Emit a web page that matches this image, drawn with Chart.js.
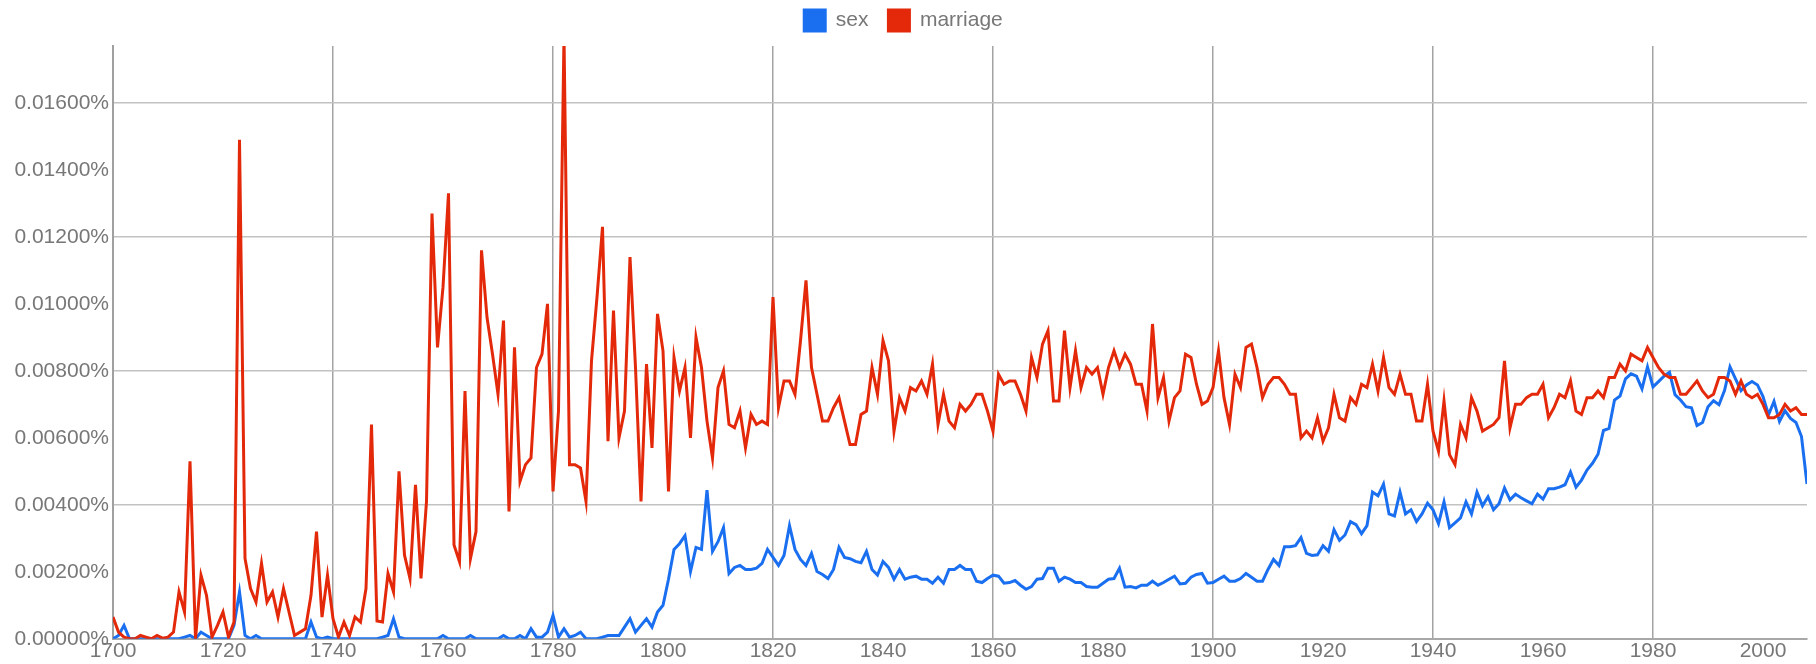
<!DOCTYPE html>
<html>
<head>
<meta charset="utf-8">
<script src="https://cdn.jsdelivr.net/npm/chart.js@4.4.1/dist/chart.umd.min.js"></script>
<style>
html,body{margin:0;padding:0;background:#ffffff;}
#wrap{width:1816px;height:664px;position:relative;}
</style>
</head>
<body>
<div id="wrap"><canvas id="c" width="1816" height="664"></canvas></div>
<script>
const startYear = 1700;
const endYear = 2008;
const seriesNames = ['sex', 'marriage'];
const seriesColors = ['#1a6ff0', '#e3290a'];

// frequency in percent, one value per year 1700..2008
const sex = [
  0, 0.0001, 0.0004, 0, 0, 0, 0, 0, 0, 0,
  0, 0, 0, 0.00005, 0.0001, 0, 0.0002, 0.0001, 0, 0,
  0, 0, 0.0004, 0.0014, 0.0001, 0, 0.0001, 0, 0, 0,
  0, 0, 0, 0, 0, 0, 0.0005, 0.00005, 0, 0.00005,
  0, 0, 0, 0, 0, 0, 0, 0, 0, 0.00005,
  0.0001, 0.0006, 0.00005, 0, 0, 0, 0, 0, 0, 0,
  0.0001, 0, 0, 0, 0, 0.0001, 0, 0, 0, 0,
  0, 0.0001, 0, 0, 0.0001, 0, 0.0003, 0.00005, 0.00005, 0.0002,
  0.0007, 0.00005, 0.0003, 0.00005, 0.0001, 0.0002, 0, 0, 0, 0.00005,
  0.0001, 0.0001, 0.0001, 0.00035, 0.0006, 0.0002, 0.0004, 0.0006, 0.00035, 0.0008,
  0.0010, 0.00178, 0.00267, 0.00284, 0.00308, 0.00201, 0.00273, 0.00267, 0.00444, 0.00261,
  0.00290, 0.00332, 0.00195, 0.00213, 0.00219, 0.00207, 0.00207, 0.00211, 0.00225, 0.00267,
  0.00243, 0.00219, 0.00249, 0.00338, 0.00267, 0.00237, 0.00219, 0.00255, 0.00201, 0.00192,
  0.00180, 0.00207, 0.00273, 0.00243, 0.00239, 0.00231, 0.00227, 0.00261, 0.00207, 0.00190,
  0.00231, 0.00213, 0.00178, 0.00207, 0.00178, 0.00184, 0.00187, 0.00178, 0.00178, 0.00166,
  0.00184, 0.00166, 0.00207, 0.00207, 0.00219, 0.00207, 0.00207, 0.00172, 0.00168, 0.00180,
  0.00190, 0.00187, 0.00166, 0.00168, 0.00174, 0.00160, 0.00148, 0.00156, 0.00178, 0.00180,
  0.00211, 0.00211, 0.00172, 0.00184, 0.00178, 0.00168, 0.00168, 0.00156, 0.00154, 0.00154,
  0.00166, 0.00178, 0.00180, 0.00211, 0.00154, 0.00156, 0.00152, 0.00160, 0.00160, 0.00172,
  0.00160, 0.00168, 0.00178, 0.00187, 0.00164, 0.00166, 0.00184, 0.00192, 0.00195, 0.00166,
  0.00168, 0.00178, 0.00187, 0.00172, 0.00172, 0.00180, 0.00195, 0.00184, 0.00172, 0.00172,
  0.00207, 0.00237, 0.00219, 0.00275, 0.00275, 0.00278, 0.00302, 0.00255, 0.00249, 0.00251,
  0.00278, 0.00261, 0.00326, 0.00294, 0.00310, 0.00350, 0.00341, 0.00314, 0.00338, 0.00438,
  0.00427, 0.00462, 0.00373, 0.00367, 0.00438, 0.00373, 0.00385, 0.00350, 0.00373, 0.00405,
  0.00385, 0.00344, 0.00409, 0.00332, 0.00346, 0.00361, 0.00409, 0.00373, 0.00438, 0.00397,
  0.00424, 0.00385, 0.00403, 0.00450, 0.00415, 0.00432, 0.00421, 0.00412, 0.00403, 0.00432,
  0.00417, 0.00448, 0.00448, 0.00453, 0.00460, 0.00498, 0.00453, 0.00474, 0.00504, 0.00524,
  0.00551, 0.00622, 0.00628, 0.00713, 0.00725, 0.00776, 0.00791, 0.00784, 0.00746, 0.00812,
  0.00752, 0.00768, 0.00784, 0.00796, 0.00729, 0.00713, 0.00693, 0.00690, 0.00637, 0.00646,
  0.00693, 0.00711, 0.00699, 0.00741, 0.00812, 0.00776, 0.00741, 0.00758, 0.00768, 0.00758,
  0.00723, 0.00669, 0.00709, 0.00649, 0.00681, 0.00658, 0.00646, 0.00604, 0.00462
];

const marriage = [
  0.00065, 0.0002, 0.00005, 0, 0, 0.0001, 0.00005, 0, 0.0001, 0.00002,
  0.00005, 0.0002, 0.0014, 0.0008, 0.0053, 0, 0.0019, 0.0013, 0.00005, 0.0004,
  0.0008, 0.00005, 0.0005, 0.0149, 0.0024, 0.0015, 0.0011, 0.00225, 0.0011, 0.0014,
  0.00065, 0.0015, 0.0008, 0.0001, 0.0002, 0.0003, 0.0013, 0.0032, 0.00065, 0.0019,
  0.0006, 0.00005, 0.0005, 0.0001, 0.00065, 0.0005, 0.0015, 0.0064, 0.00053, 0.0005,
  0.00195, 0.0014, 0.0050, 0.0025, 0.0018, 0.0046, 0.0018, 0.0041, 0.0127, 0.0087,
  0.0105, 0.0133, 0.0028, 0.0023, 0.0074, 0.0024, 0.0032, 0.0116, 0.0096, 0.0085,
  0.0073, 0.0095, 0.0038, 0.0087, 0.0047, 0.0052, 0.0054, 0.0081, 0.0085, 0.0100,
  0.0044, 0.0068, 0.0180, 0.0052, 0.0052, 0.0051, 0.0041, 0.0083, 0.0102, 0.0123,
  0.0059, 0.0098, 0.0060, 0.0068, 0.0114, 0.0081, 0.0041, 0.0082, 0.0057, 0.0097,
  0.0086, 0.0044, 0.0084, 0.0074, 0.0081, 0.0060, 0.0090, 0.0081, 0.0065, 0.0054,
  0.0075, 0.0080, 0.0064, 0.0063, 0.0068, 0.0057, 0.0067, 0.0064, 0.0065, 0.0064,
  0.0102, 0.0069, 0.0077, 0.0077, 0.0073, 0.0089, 0.0107, 0.0081, 0.0073, 0.0065,
  0.0065, 0.0069, 0.0072, 0.0065, 0.0058, 0.0058, 0.0067, 0.0068, 0.0081, 0.0073,
  0.0089, 0.0083, 0.0062, 0.0072, 0.0068, 0.0075, 0.0074, 0.0077, 0.0073, 0.0082,
  0.0064, 0.0073, 0.0065, 0.0063, 0.0070, 0.0068, 0.0070, 0.0073, 0.0073, 0.0068,
  0.0062, 0.0079, 0.0076, 0.0077, 0.0077, 0.0073, 0.0068, 0.0084, 0.0078, 0.0088,
  0.0092, 0.0071, 0.0071, 0.0092, 0.0075, 0.0086, 0.0075, 0.0081, 0.0079, 0.0081,
  0.0073, 0.0081, 0.0086, 0.0081, 0.0085, 0.0082, 0.0076, 0.0076, 0.0068, 0.0094,
  0.0072, 0.0078, 0.0065, 0.0072, 0.0074, 0.0085, 0.0084, 0.0076, 0.0070, 0.0071,
  0.0075, 0.0086, 0.0072, 0.0064, 0.0079, 0.0075, 0.0087, 0.0088, 0.0081, 0.0072,
  0.0076, 0.0078, 0.0078, 0.0076, 0.0073, 0.0073, 0.0060, 0.0062, 0.0060, 0.0066,
  0.0059, 0.0063, 0.0073, 0.0066, 0.0065, 0.0072, 0.0070, 0.0076, 0.0075, 0.0082,
  0.0074, 0.0084, 0.0075, 0.0073, 0.0079, 0.0073, 0.0073, 0.0065, 0.0065, 0.0076,
  0.0062, 0.0056, 0.0071, 0.0055, 0.0052, 0.0064, 0.0060, 0.0072, 0.0068, 0.0062,
  0.0063, 0.0064, 0.0066, 0.0083, 0.0063, 0.0070, 0.0070, 0.0072, 0.0073, 0.0073,
  0.0076, 0.0066, 0.0069, 0.0073, 0.0072, 0.0077, 0.0068, 0.0067, 0.0072, 0.0072,
  0.0074, 0.0072, 0.0078, 0.0078, 0.0082, 0.0080, 0.0085, 0.0084, 0.0083, 0.0087,
  0.0084, 0.0081, 0.0079, 0.0078, 0.0078, 0.0073, 0.0073, 0.0075, 0.0077, 0.0074,
  0.0072, 0.0073, 0.0078, 0.0078, 0.0077, 0.0073, 0.0077, 0.0073, 0.0072, 0.0073,
  0.0070, 0.0066, 0.0066, 0.0067, 0.0070, 0.0068, 0.0069, 0.0067, 0.0067
];

const xTickStep = 20;      // year labels
const xGridStep = 40;      // vertical grid lines, counted from startYear
const yMax = 0.0177;
const yTickStep = 0.002;   // percent labels
const yGridEvery = 2;      // horizontal grid every other label

const years = [];
for (let y = startYear; y <= endYear; y++) years.push(y);

const FONT = "'Liberation Sans', Arial, Helvetica, sans-serif";

const legendSpacer = {
  id: 'legendSpacer',
  beforeInit(chart) {
    const origFit = chart.legend.fit;
    chart.legend.fit = function () {
      origFit.bind(chart.legend)();
      this.height += 5;
    };
  }
};

new Chart(document.getElementById('c'), {
  type: 'line',
  data: {
    labels: years,
    datasets: [
      { label: seriesNames[0], data: sex, borderColor: seriesColors[0], backgroundColor: seriesColors[0],
        borderWidth: 3, pointRadius: 0, tension: 0, order: 1 },
      { label: seriesNames[1], data: marriage, borderColor: seriesColors[1], backgroundColor: seriesColors[1],
        borderWidth: 3, pointRadius: 0, tension: 0, order: 0 }
    ]
  },
  options: {
    responsive: false,
    animation: false,
    devicePixelRatio: 1,
    layout: { padding: { top: -10, left: 0, right: 9, bottom: 0 } },
    plugins: {
      legend: {
        position: 'top',
        align: 'center',
        labels: {
          boxWidth: 21, boxHeight: 21, padding: 20, color: '#777777',
          font: { family: FONT, size: 21 },
          sort: (a, b) => a.datasetIndex - b.datasetIndex
        }
      },
      tooltip: { enabled: false }
    },
    scales: {
      x: {
        type: 'linear', min: startYear, max: endYear,
        ticks: {
          stepSize: xTickStep, includeBounds: false, maxTicksLimit: 100, autoSkip: false,
          maxRotation: 0, padding: 0, color: '#777777', font: { family: FONT, size: 21 },
          callback: v => String(v)
        },
        grid: {
          drawTicks: false, lineWidth: 1.5,
          color: c => (c.tick && Math.round(c.tick.value - startYear) % xGridStep === 0) ? '#a3a3a3' : 'rgba(0,0,0,0)'
        },
        border: { display: true, color: '#a8a8a8', width: 2 }
      },
      y: {
        min: 0, max: yMax,
        ticks: {
          stepSize: yTickStep, includeBounds: false, maxTicksLimit: 100, padding: 4,
          color: '#777777', font: { family: FONT, size: 21 },
          callback: v => v.toFixed(5) + '%'
        },
        grid: {
          drawTicks: false, lineWidth: 1.5,
          color: c => {
            if (!c.tick) return 'rgba(0,0,0,0)';
            const k = Math.round(c.tick.value / yTickStep);
            return (k > 0 && k % yGridEvery === 0) ? '#c2c2c2' : 'rgba(0,0,0,0)';
          }
        },
        border: { display: true, color: '#a0a0a0', width: 2 },
        afterFit: s => { s.width = 113; }
      }
    }
  },
  plugins: [legendSpacer]
});
</script>
</body>
</html>
